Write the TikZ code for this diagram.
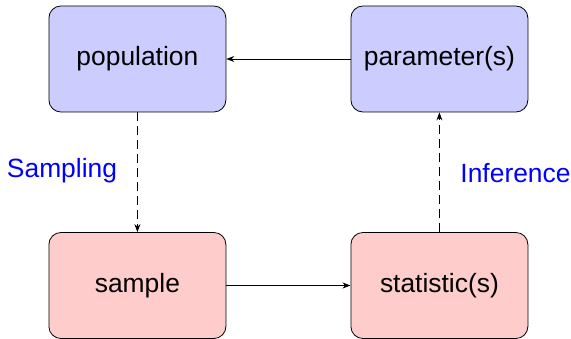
\documentclass[tikz,border=0pt]{standalone}
\usepackage{fontspec}
\setmainfont{Liberation Sans}
\usetikzlibrary{arrows.meta}
\begin{document}
\begin{tikzpicture}[x=1pt,y=1pt,
  box/.style={draw=black, line width=0.8pt, rounded corners=12pt, minimum width=177pt, minimum height=106pt, inner sep=0pt, font=\fontsize{26.4}{31}\selectfont},
  popbox/.style={box, fill=blue!20},
  sampbox/.style={box, fill=red!20},
  conn/.style={line width=0.8pt, -{Stealth[length=8pt,width=6pt]}},
  dconn/.style={conn, dash pattern=on 9pt off 5pt},
  lab/.style={text=blue, font=\fontsize{26.4}{31}\selectfont}]
\useasboundingbox (0,0) rectangle (571,339);
\node[popbox] (pop) at (137.4,280) {population};
\node[popbox] (par) at (439.4,280) {parameter(s)};
\node[sampbox] (samp) at (137.4,53.5) {sample};
\node[sampbox] (stat) at (439.4,53.5) {statistic(s)};
\draw[conn] (par) -- (pop);
\draw[conn] (samp) -- (stat);
\draw[dconn] (pop) -- (samp);
\draw[dconn] (stat) -- (par);
\node[lab] (sl) at (62,168) {Sampling};
\node[lab] (il) at (515.5,166) {Inference};
\end{tikzpicture}
\end{document}
